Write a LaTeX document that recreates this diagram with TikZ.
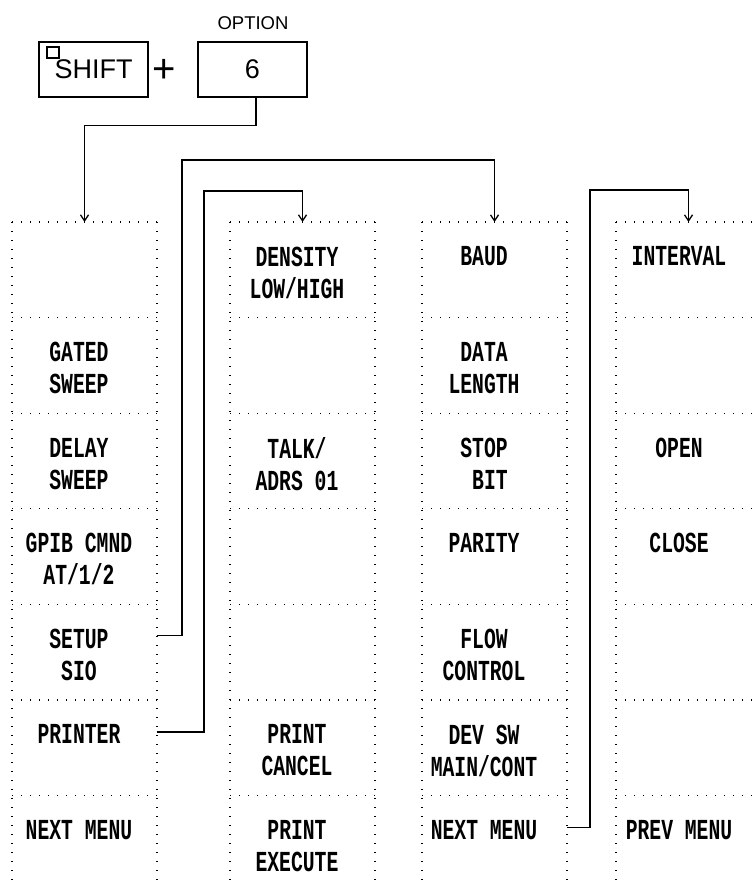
\documentclass[tikz,border=0pt]{standalone}
\usepackage{fontspec}
\setmainfont{Liberation Sans}
\newfontfamily\typefont[FakeStretch=0.68]{Liberation Mono Bold}
\usetikzlibrary{arrows.meta,calc}
\begin{document}
\begin{tikzpicture}[x=1pt,y=-1pt,
  cell/.style={minimum width=145pt,minimum height=95.6pt,inner sep=0pt,outer sep=0pt,anchor=north west},
  gridline/.style={line width=1.2pt,dash pattern=on 1.2pt off 7.8pt},
  lbl/.style={font=\typefont\fontsize{29}{32}\selectfont,align=center,inner sep=0pt,anchor=north},
  conn/.style={line width=1.3pt},
  arr/.style={conn,-{Straight Barb[length=6pt,width=8pt]}},
  keybox/.style={draw,line width=1.6pt,minimum width=109pt,minimum height=55pt,inner sep=0pt,
    font=\fontsize{27}{29}\selectfont}
]
\useasboundingbox (0,0) rectangle (754,888);
\clip (0,0) rectangle (754,888);

% keys
\node[keybox] (shiftkey) at (93.5,69.5) {SHIFT};
\draw[line width=1.2pt] (47,47) rectangle (59,58);
\node[font=\fontsize{40}{42}\selectfont,inner sep=0pt] (plus) at (164,71) {+};
\node[keybox] (sixkey) at (252.5,69.5) {6};
\node[font=\fontsize{18.5}{20}\selectfont,inner sep=0pt] (option) at (253,23.5) {OPTION};

% cells
\foreach \ci/\xx in {1/12,2/230,3/422,4/616}{
  \foreach \ri in {1,...,7}{
    \node[cell] (c\ci r\ri) at (\xx,{222+(\ri-1)*95.6}) {};
    \draw[gridline] (c\ci r\ri.north west) -- (c\ci r\ri.north east);
  }
  \draw[gridline] (c\ci r1.north west) -- (c\ci r7.south west);
  \draw[gridline] (c\ci r1.north east) -- (c\ci r7.south east);
}

% labels column 1
\begin{scope}[every node/.append style={xshift=-5.5pt,yshift=-24.5pt}]
\node[lbl] (gated) at (c1r2.north) {GATED\\SWEEP};
\node[lbl] (delay) at (c1r3.north) {DELAY\\SWEEP};
\node[lbl] (gpib) at (c1r4.north) {GPIB CMND\\AT/1/2};
\node[lbl] (setup) at (c1r5.north) {SETUP\\SIO};
\node[lbl] (printer) at (c1r6.north) {PRINTER};
\node[lbl] (next1) at (c1r7.north) {NEXT MENU};
% column 2
\node[lbl] (density) at (c2r1.north) {DENSITY\\LOW/HIGH};
\node[lbl] (talk) at (c2r3.north) {TALK/\\ADRS 01};
\node[lbl] (pcancel) at (c2r6.north) {PRINT\\CANCEL};
\node[lbl] (pexec) at (c2r7.north) {PRINT\\EXECUTE};
\end{scope}
\begin{scope}[every node/.append style={xshift=-10.5pt,yshift=-24.5pt}]
\node[lbl] (baud) at (c3r1.north) {BAUD};
\node[lbl] (datalen) at (c3r2.north) {DATA\\LENGTH};
\node[lbl] (stopbit) at (c3r3.north) {STOP\\\hphantom{S}BIT};
\node[lbl] (parity) at (c3r4.north) {PARITY};
\node[lbl] (flow) at (c3r5.north) {FLOW\\CONTROL};
\node[lbl] (devsw) at (c3r6.north) {DEV SW\\MAIN/CONT};
\node[lbl] (next3) at (c3r7.north) {NEXT MENU};
\end{scope}
\begin{scope}[every node/.append style={xshift=-9.5pt,yshift=-24.5pt}]
\node[lbl] (interval) at (c4r1.north) {INTERVAL};
\node[lbl] (open) at (c4r3.north) {OPEN};
\node[lbl] (close) at (c4r4.north) {CLOSE};
\node[lbl] (prev) at (c4r7.north) {PREV MENU};
\end{scope}

% connector start points
\coordinate (s1) at ($(c1r5.north east)+(0,31)$);
\coordinate (s2) at ($(c1r6.north east)+(0,32)$);
\coordinate (s3) at ($(c3r7.north east)+(0,32)$);

% connectors
\draw[arr] ([xshift=3.5pt]sixkey.south) -- ++(0,28) -| (c1r1.north);
\draw[arr] (s1) -- ++(25,0) |- ([yshift=62pt]c3r1.north) -- (c3r1.north);
\draw[arr] (s2) -- ++(47,0) |- ([yshift=31pt]c2r1.north) -- (c2r1.north);
\draw[arr] (s3) -- ++(23,0) |- ([yshift=32pt]c4r1.north) -- (c4r1.north);
\end{tikzpicture}
\end{document}
